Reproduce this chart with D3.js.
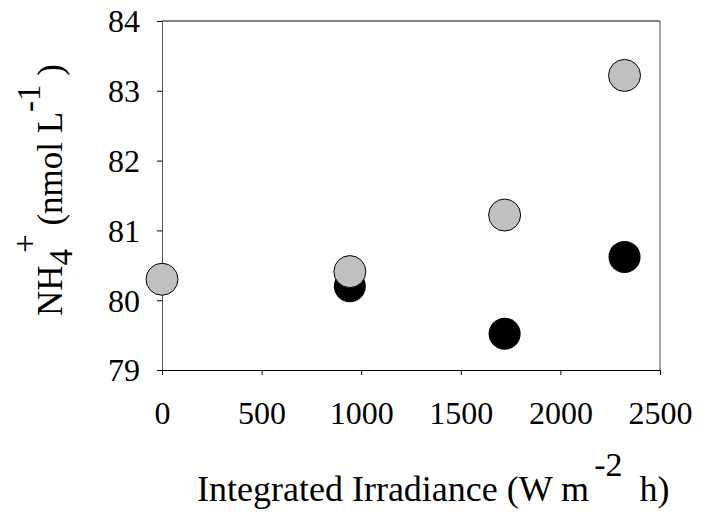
<!DOCTYPE html>
<html>
<head>
<meta charset="utf-8">
<script src="https://cdn.jsdelivr.net/npm/d3@7"></script>
<style>
  body { margin: 0; background: #fff; }
  svg text { fill: #000; }
</style>
</head>
<body>
<svg width="704" height="514"></svg>
<script>
// data
const irradiance = [0, 943, 1720, 2322];
const darkSeries = [null, 80.2, 79.52, 80.62];
const lightSeries = [80.3, 80.41, 81.22, 83.22];
const xTicks = [0, 500, 1000, 1500, 2000, 2500];
const yTicks = [79, 80, 81, 82, 83, 84];

const svg = d3.select("svg");
const plotLeft = 162, plotRight = 660, plotTop = 21, plotBottom = 370;
const serif = "Liberation Serif";

const x = d3.scaleLinear().domain([0, 2500]).range([plotLeft, plotRight]);
const y = d3.scaleLinear().domain([79, 84]).range([plotBottom, plotTop]);

// frame: top and right
svg.append("line").attr("x1", plotLeft).attr("x2", plotRight).attr("y1", plotTop).attr("y2", plotTop)
    .attr("stroke", "#000").attr("stroke-width", 1);
svg.append("line").attr("x1", plotRight).attr("x2", plotRight).attr("y1", plotTop).attr("y2", plotBottom)
    .attr("stroke", "#444").attr("stroke-width", 1);

// x axis
const xAxis = svg.append("g")
    .attr("transform", `translate(0,${plotBottom})`)
    .call(d3.axisBottom(x).tickValues(xTicks).tickFormat(d3.format("d")).tickSizeInner(5).tickSizeOuter(0));
xAxis.attr("font-family", serif).attr("font-size", 32);
xAxis.select(".domain").attr("stroke", "#000");
xAxis.selectAll(".tick line").attr("stroke", "#000");
xAxis.selectAll("text").attr("y", 54).attr("dy", null);

// y axis
const yAxis = svg.append("g")
    .attr("transform", `translate(${plotLeft},0)`)
    .call(d3.axisLeft(y).tickValues(yTicks).tickFormat(d3.format("d")).tickSizeInner(5).tickSizeOuter(0));
yAxis.attr("font-family", serif).attr("font-size", 32);
yAxis.select(".domain").attr("stroke", "#555");
yAxis.selectAll(".tick line").attr("stroke", "#000");
yAxis.selectAll("text").attr("x", -22).attr("dy", "0.34em");

// points
const pts = svg.append("g");
pts.selectAll(".dark")
    .data(irradiance.map((d, i) => [d, darkSeries[i]]).filter(d => d[1] != null))
    .enter().append("circle")
    .attr("cx", d => x(d[0])).attr("cy", d => y(d[1])).attr("r", 16)
    .attr("fill", "#000");
pts.selectAll(".light")
    .data(irradiance.map((d, i) => [d, lightSeries[i]]))
    .enter().append("circle")
    .attr("cx", d => x(d[0])).attr("cy", d => y(d[1])).attr("r", 16)
    .attr("fill", "#c0c0c0").attr("stroke", "#000").attr("stroke-width", 1);

// x title
const xt = svg.append("text")
    .attr("x", 197).attr("y", 501)
    .attr("font-family", serif)
    .attr("font-size", 36);
xt.append("tspan").text("Integrated Irradiance (W m");
xt.append("tspan").attr("dx", 5).attr("dy", -25).attr("font-size", 34).text("-2");
xt.append("tspan").attr("dx", 8).attr("dy", 25).text(" h)");

// y title
const yt = svg.append("text")
    .attr("transform", `translate(62,190) rotate(-90)`)
    .attr("text-anchor", "middle")
    .attr("font-family", serif)
    .attr("font-size", 35);
yt.append("tspan").text("NH");
yt.append("tspan").attr("dy", 10).attr("font-size", 33).text("4");
yt.append("tspan").attr("dy", -36).attr("dx", -4).attr("font-size", 33).text("+");
yt.append("tspan").attr("dy", 26).text(" (nmol L");
yt.append("tspan").attr("dy", -22).attr("font-size", 33).text("-1");
yt.append("tspan").attr("dy", 22).text(" )");
</script>
</body>
</html>
